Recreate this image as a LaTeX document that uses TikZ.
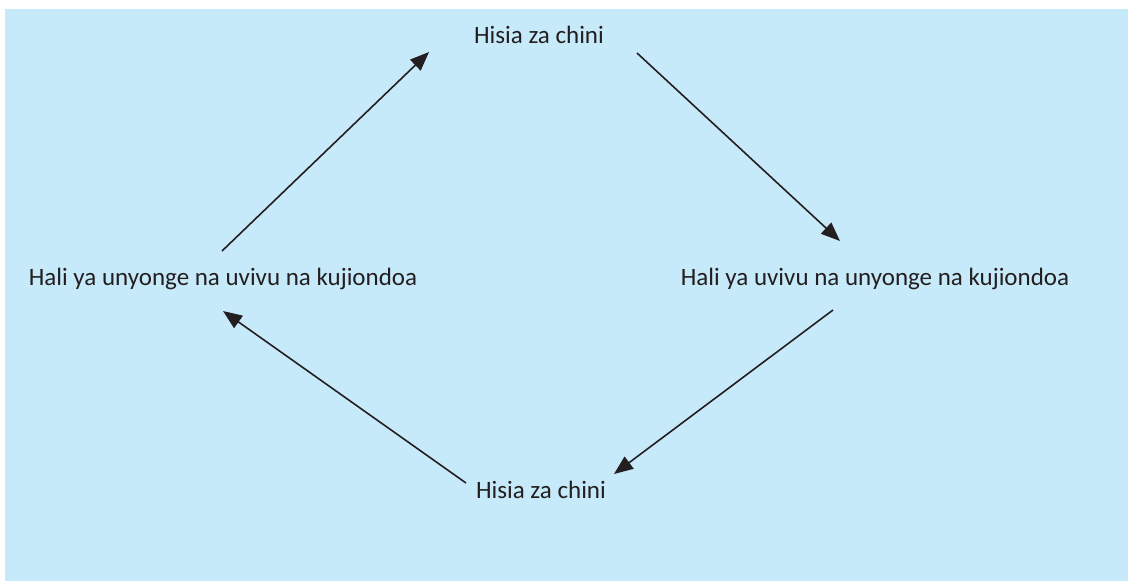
\documentclass[tikz,border=0pt]{standalone}
\usepackage{fontspec}
\setmainfont{Carlito}
\usetikzlibrary{arrows.meta}
\definecolor{panel}{RGB}{199,234,250}
\definecolor{ink}{RGB}{35,31,32}
\begin{document}
\begin{tikzpicture}[x=1pt,y=-1pt,
  label/.style={anchor=base,text=ink,font=\fontsize{25}{30}\selectfont,inner sep=0pt},
  flow/.style={draw=ink,line width=1.6pt,-{Triangle[length=19pt,width=15pt]}}]
\useasboundingbox (0,0) rectangle (1128,581);
\fill[panel] (5,9) rectangle (1128,581);
% the four states of the cycle
\node[label] (top) at (539,43) {Hisia za chini};
\node[label] (left) at (223,285) {Hali ya unyonge na uvivu na kujiondoa};
\node[label] (right) at (875,285) {Hali ya uvivu na unyonge na kujiondoa};
\node[label] (bottom) at (541,498) {Hisia za chini};
% arrow ends
\coordinate (l1) at (222,251);
\coordinate (t1) at (429,52);
\coordinate (t2) at (637,53);
\coordinate (r1) at (840,241);
\coordinate (r2) at (833,310);
\coordinate (b1) at (614,474);
\coordinate (b2) at (466,483);
\coordinate (l2) at (223,311);
\draw[flow] (l1) -- (t1);
\draw[flow] (t2) -- (r1);
\draw[flow] (r2) -- (b1);
\draw[flow] (b2) -- (l2);
\end{tikzpicture}
\end{document}
